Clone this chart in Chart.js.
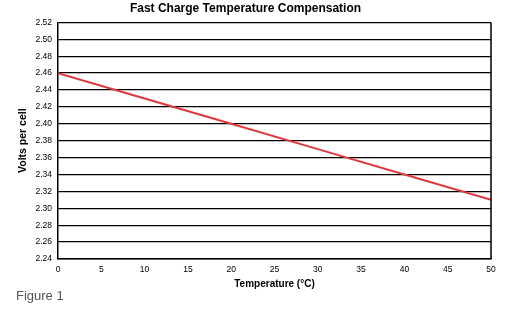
<!DOCTYPE html>
<html>
<head>
<meta charset="utf-8">
<script src="https://cdn.jsdelivr.net/npm/chart.js@4"></script>
<style>
  html, body { margin: 0; padding: 0; background: #fff; }
  #wrap { position: relative; width: 511px; height: 329px; }
  #fig { position: absolute; left: 16px; top: 288px; font: 13px "Liberation Sans", Arial, sans-serif; color: #555; }
</style>
</head>
<body>
<div id="wrap">
  <canvas id="chart" width="511" height="329"></canvas>
  <div id="fig">Figure 1</div>
</div>
<script>
// temperature (C) vs charge voltage per cell
var temps = [0, 10, 20, 30, 40, 50]
var volts = [2.46, 2.43, 2.40, 2.37, 2.34, 2.31]
var yMin = 2.24, yMax = 2.52, yStep = 0.02

var font = "'Liberation Sans', Arial, sans-serif"
var points = []
for (let i = 0; i < temps.length; i++) {
    points.push({ x: temps[i], y: volts[i] })
}

new Chart(document.getElementById('chart'), {
    type: 'line',
    data: {
        datasets: [{
            data: points,
            borderColor: '#e2383c',
            borderWidth: 2,
            pointRadius: 0,
            fill: false,
            tension: 0
        }]
    },
    options: {
        responsive: false,
        animation: false,
        layout: { padding: { left: 0, right: 20, top: 0, bottom: 39 } },
        plugins: {
            legend: { display: false },
            tooltip: { enabled: false },
            title: {
                display: true,
                text: 'Fast Charge Temperature Compensation',
                color: '#000',
                font: { family: font, size: 12, weight: 'bold' },
                padding: { top: 1, bottom: 7 }
            }
        },
        scales: {
            x: {
                type: 'linear',
                min: 0, max: 50,
                grid: { display: false, drawTicks: false },
                border: { color: '#000', width: 1.5 },
                ticks: { stepSize: 5, color: '#000', font: { family: font, size: 8.5 }, padding: 6 },
                title: {
                    display: true, text: 'Temperature (\u00B0C)', color: '#000',
                    font: { family: font, size: 10, weight: 'bold' }, padding: { top: 0, bottom: 0 }
                },
                afterFit: function (s) { s.height = 31 }
            },
            y: {
                min: yMin, max: yMax,
                grid: { color: '#000', lineWidth: 1.3, drawTicks: false },
                border: { color: '#000', width: 1.5 },
                ticks: {
                    stepSize: yStep, color: '#000', font: { family: font, size: 8.5 }, padding: 6,
                    callback: function (v) { return v.toFixed(2) }
                },
                title: {
                    display: true, text: 'Volts per cell', color: '#000',
                    font: { family: font, size: 10.5, weight: 'bold' }, padding: { top: 17, bottom: 0 }
                },
                afterFit: function (s) { s.width = 58 }
            }
        }
    },
    plugins: [{
        id: 'frame',
        afterDatasetsDraw: function (chart) {
            var a = chart.chartArea, ctx = chart.ctx
            ctx.save()
            ctx.strokeStyle = '#000'
            ctx.lineWidth = 1.5
            ctx.beginPath()
            ctx.moveTo(a.right, a.top)
            ctx.lineTo(a.right, a.bottom)
            ctx.stroke()
            ctx.restore()
        }
    }]
});
</script>
</body>
</html>
